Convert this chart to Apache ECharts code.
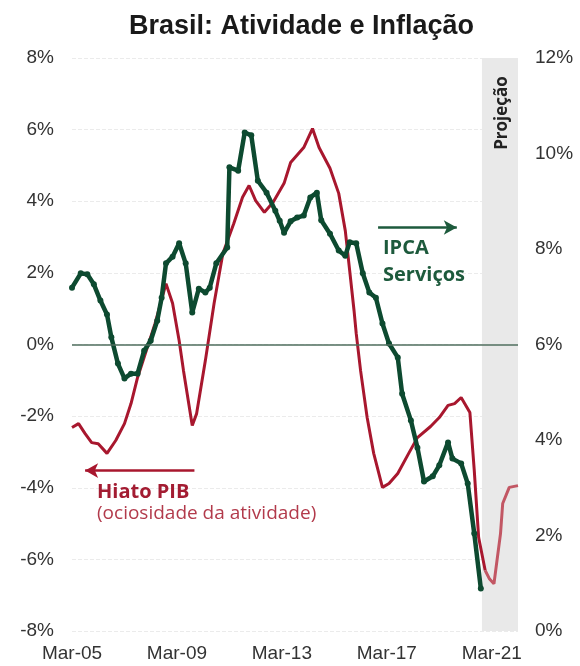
<!DOCTYPE html>
<html><head><meta charset="utf-8">
<script src="https://cdn.jsdelivr.net/npm/echarts@6/dist/echarts.min.js"></script>
<style>html,body{margin:0;padding:0;background:#fff}#c{width:580px;height:666px}</style>
</head><body><div id="c"></div>
<script>
// x positions are months since Mar-05
const xTickLabels = ['Mar-05', 'Mar-09', 'Mar-13', 'Mar-17', 'Mar-21'];

// IPCA Serviços (right axis, %)
const ipcaMonths = [0,4,7,10,13,16,18,21,24,27,30,33,36,39,41,43,46,49,52,55,58,61,63,66,71,72,76,79,82,85,89,93,95,97,100,103,106,109,112,114,118,122,125,127,130,133,136,139,142,145,149,151,155,158,161,165,168,172,174,178,181,184,187];
const ipcaValues = [7.19,7.49,7.47,7.26,6.92,6.63,6.15,5.60,5.29,5.39,5.39,5.87,6.08,6.50,6.98,7.70,7.84,8.12,7.70,6.67,7.17,7.09,7.19,7.70,8.03,9.71,9.64,10.44,10.38,9.43,9.18,8.80,8.59,8.34,8.58,8.66,8.70,9.08,9.18,8.60,8.32,7.97,7.86,8.14,8.12,7.49,7.09,6.98,6.44,6.02,5.73,4.97,4.41,3.84,3.13,3.24,3.47,3.95,3.61,3.51,3.09,2.04,0.89];

// Hiato PIB (left axis, %) - observed
const hiatoMonths = [0,3,6,9,12,16,20,24,27,30,33,38,43,46,49,51,55,57,61,65,69,74,78,81,84,88,92,97,100,106,110,113,118,122,125,127,129,130,132,135,138,142,145,149,154,158,164,168,172,175,178,182,184,186,189];
const hiatoValues = [-2.32,-2.21,-2.49,-2.74,-2.77,-3.04,-2.68,-2.21,-1.65,-0.92,-0.36,0.59,1.70,1.15,0.11,-0.73,-2.26,-1.93,-0.45,1.15,2.54,3.38,4.11,4.44,4.02,3.69,3.97,4.50,5.08,5.50,6.03,5.50,4.92,4.22,3.18,2.07,0.95,0.31,-0.73,-2.04,-3.04,-3.99,-3.88,-3.60,-3.04,-2.60,-2.29,-2.04,-1.70,-1.65,-1.48,-1.90,-3.52,-5.39,-6.31];

// Hiato PIB - projection
const projMonths = [189,191,193,196,197,200,204];
const projValues = [-6.31,-6.55,-6.68,-5.28,-4.44,-3.99,-3.94];

// projection band (months)
const projStart = 187.5, projEnd = 204;

const zip = (a, b) => a.map((v, i) => [v, b[i]]);

const labelFont = { fontSize: 19, color: '#333', fontFamily: 'Liberation Sans' };

const chart = echarts.init(document.getElementById('c'));
chart.setOption({
  animation: false,
  title: {
    text: 'Brasil: Atividade e Inflação',
    left: 124, top: 8,
    textStyle: { fontSize: 27, fontWeight: 'bold', color: '#1a1a1a', fontFamily: 'Liberation Sans' }
  },
  grid: { left: 72, right: 62, top: 58, bottom: 35 },
  xAxis: {
    type: 'value', min: 0, max: 204, interval: 48,
    axisLine: { show: false }, axisTick: { show: false }, splitLine: { show: false },
    axisLabel: Object.assign({
      margin: 13, showMaxLabel: false,
      formatter: v => (v % 48 === 0 && xTickLabels[v / 48]) || ''
    }, labelFont)
  },
  yAxis: [
    {
      type: 'value', min: -8, max: 8, interval: 2, position: 'left',
      axisLine: { show: false }, axisTick: { show: false },
      splitLine: { lineStyle: { color: '#ebebeb', type: 'dashed', width: 1 } },
      axisLabel: Object.assign({ margin: 18, formatter: '{value}%' }, labelFont)
    },
    {
      type: 'value', min: 0, max: 12, interval: 2, position: 'right',
      axisLine: { show: false }, axisTick: { show: false }, splitLine: { show: false },
      axisLabel: Object.assign({ margin: 17, formatter: '{value}%' }, labelFont)
    }
  ],
  series: [
    {
      name: 'Hiato PIB', type: 'line', yAxisIndex: 0, data: zip(hiatoMonths, hiatoValues),
      symbol: 'none', lineStyle: { color: '#a8172e', width: 3 }, z: 3,
      markArea: {
        silent: true, itemStyle: { color: '#e9e9e9' },
        data: [[{ xAxis: projStart }, { xAxis: projEnd }]]
      },
      markLine: {
        silent: true, symbol: ['none', 'none'], label: { show: false },
        lineStyle: { color: '#4f6e5e', width: 1.5, type: 'solid' },
        data: [{ yAxis: 0 }]
      }
    },
    {
      name: 'Hiato PIB proj', type: 'line', yAxisIndex: 0, data: zip(projMonths, projValues),
      symbol: 'none', lineStyle: { color: '#c25764', width: 3 }, z: 3,
      markLine: {
        silent: true, symbol: ['none', 'arrow'], symbolSize: [11, 13], label: { show: false },
        lineStyle: { color: '#a8172e', width: 2.5, type: 'solid' },
        data: [[{ coord: [56, -3.52] }, { coord: [6, -3.52] }]]
      }
    },
    {
      name: 'IPCA Serviços', type: 'line', yAxisIndex: 1, data: zip(ipcaMonths, ipcaValues),
      symbol: 'circle', symbolSize: 6, showAllSymbol: true,
      itemStyle: { color: '#0d4a30' },
      lineStyle: { color: '#0d4a30', width: 4.5 }, z: 4,
      markLine: {
        silent: true, symbol: ['none', 'arrow'], symbolSize: [11, 13], label: { show: false },
        lineStyle: { color: '#1d5a3c', width: 2.5, type: 'solid' },
        data: [[{ coord: [140, 8.45] }, { coord: [176, 8.45] }]]
      }
    }
  ],
  graphic: [
    { type: 'text', z: 100, x: 383, y: 248, style: { text: 'IPCA', font: 'bold 20px "Open Sans"', fill: '#1d5a3c', textVerticalAlign: 'middle' } },
    { type: 'text', z: 100, x: 383, y: 275, style: { text: 'Serviços', font: 'bold 20px "Open Sans"', fill: '#1d5a3c', textVerticalAlign: 'middle' } },
    { type: 'text', z: 100, x: 97, y: 492, style: { text: 'Hiato PIB', font: 'bold 20px "Open Sans"', fill: '#a31c32', textVerticalAlign: 'middle' } },
    { type: 'text', z: 100, x: 97, y: 514, style: { text: '(ociosidade da atividade)', font: '19px "Open Sans"', fill: '#b23a4b', textVerticalAlign: 'middle' } },
    { type: 'text', z: 100, x: 502, y: 113, rotation: Math.PI / 2, style: { text: 'Projeção', font: 'bold 17px "Open Sans"', fill: '#222', textAlign: 'center', textVerticalAlign: 'middle' } }
  ]
});
</script>
</body></html>
